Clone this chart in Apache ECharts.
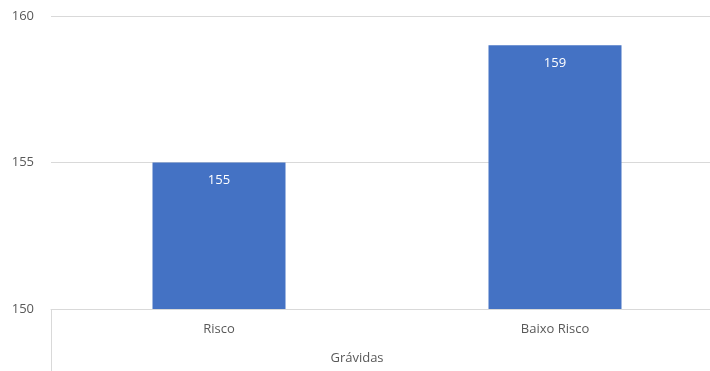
<!DOCTYPE html>
<html><head><meta charset="utf-8">
<script src="https://cdn.jsdelivr.net/npm/echarts@6/dist/echarts.min.js"></script>
<style>html,body{margin:0;padding:0;background:#fff}#c{width:710px;height:371px}</style>
</head><body><div id="c"></div>
<script>
const categories = ['Risco', 'Baixo Risco'];
const values = [155, 159];
const axisTitle = 'Grávidas';
const yMin = 150, yMax = 160, yStep = 5;

const chart = echarts.init(document.getElementById('c'));
const font = '"Open Sans", "Noto Sans", sans-serif';
chart.setOption({
  animation: false,
  grid: { left: 51, top: 16, right: -13, bottom: 62, outerBoundsMode: 'none', containLabel: false },
  xAxis: {
    type: 'category', data: categories,
    axisLine: { lineStyle: { color: '#d9d9d9' } },
    axisTick: { show: false },
    axisLabel: { color: '#595959', fontSize: 13, fontFamily: font, margin: 14 },
    name: axisTitle, nameLocation: 'middle', nameGap: 43,
    nameTextStyle: { color: '#595959', fontSize: 13, fontFamily: font, padding: [0, 60, 0, 0] }
  },
  yAxis: {
    type: 'value', min: yMin, max: yMax, interval: yStep,
    axisLine: { show: false }, axisTick: { show: false },
    splitLine: { lineStyle: { color: '#d9d9d9' } },
    axisLabel: { color: '#595959', fontSize: 13, fontFamily: font, margin: 17 }
  },
  graphic: [{ type: 'line', shape: { x1: 51.5, y1: 309, x2: 51.5, y2: 371 }, style: { stroke: '#d9d9d9', lineWidth: 1 } }],
  series: [{
    type: 'bar', data: values, barWidth: 133,
    itemStyle: { color: '#4472c4' },
    label: { show: true, position: 'insideTop', distance: 11, color: '#fff', fontSize: 13, fontFamily: font }
  }]
});
</script></body></html>
